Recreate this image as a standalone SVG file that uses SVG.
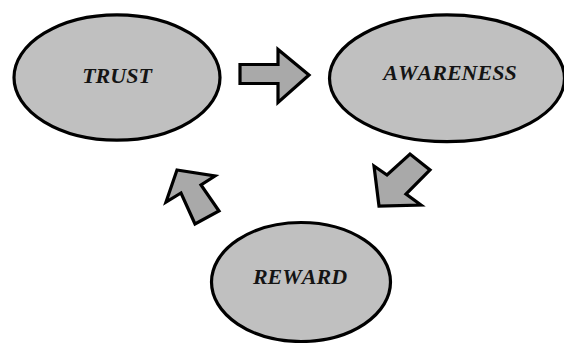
<svg xmlns="http://www.w3.org/2000/svg" width="564" height="343" viewBox="0 0 564 343">
<style>
.node{fill:#c0c0c0;stroke:#000;stroke-width:3.2}
.lbl{font-family:"Liberation Serif","Times New Roman",serif;font-weight:bold;font-style:italic;font-size:22px;fill:#141414;text-anchor:middle;font-kerning:none}
.arr{fill:#a9a9a9;stroke:#000;stroke-width:3.2;stroke-linejoin:miter}
</style>
<rect width="564" height="343" fill="#fff"/>
<g id="trust">
<ellipse class="node" cx="117" cy="77.5" rx="103" ry="62.6"/>
<text class="lbl" x="117" y="83" font-size="21.5">TRUST</text>
</g>
<g id="awareness">
<ellipse class="node" cx="447" cy="78.3" rx="117.5" ry="63.4"/>
<text class="lbl" x="450" y="80">AWARENESS</text>
</g>
<g id="reward">
<ellipse class="node" cx="301" cy="282" rx="89.5" ry="59.5"/>
<text class="lbl" x="300" y="284" font-size="20.5">REWARD</text>
</g>
<g id="connectors">
<path class="arr" d="M240,64.5 L278,64.5 L278,49.5 L309,75 L278,102.5 L278,83.5 L240,83.5 Z"/>
<path class="arr" d="M374,166 L379,206 L421,205 L406,194 L430,170 L410,154 L387,175 Z"/>
<path class="arr" d="M177,170 L215,176 L201,185 L219,211 L195,224 L181,193 L166,202 Z"/>
</g>
</svg>
